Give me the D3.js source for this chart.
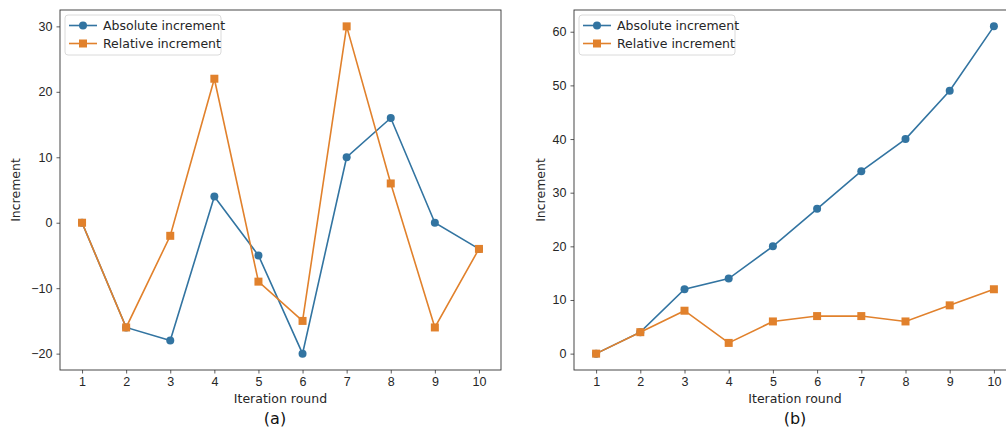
<!DOCTYPE html>
<html lang="en">
<head>
    <meta charset="UTF-8">
    <script src="https://cdnjs.cloudflare.com/ajax/libs/d3/7.8.5/d3.min.js"></script>
    <style>
        body { margin: 0; background: #fff; }
        svg { font-family: "DejaVu Sans", sans-serif; }
        .tick text { font-size: 12.5px; fill: #262626; }
    </style>
</head>
<body>
    <svg width="1006" height="428"></svg>
    <script>
        const rounds = [1, 2, 3, 4, 5, 6, 7, 8, 9, 10];
        const absA = [0, -16, -18, 4, -5, -20, 10, 16, 0, -4];
        const relA = [0, -16, -2, 22, -9, -15, 30, 6, -16, -4];
        const absB = [0, 4, 12, 14, 20, 27, 34, 40, 49, 61];
        const relB = [0, 4, 8, 2, 6, 7, 7, 6, 9, 12];
        const ticksA = [-20, -10, 0, 10, 20, 30];
        const ticksB = [0, 10, 20, 30, 40, 50, 60];
        const seriesNames = ['Absolute increment', 'Relative increment'];
        const colors = ['#3274a1', '#e1812c'];

        const svg = d3.select('svg');

        function panel(opt) {
            const { left, right, top, bottom } = opt;
            const g = svg.append('g');
            const x = d3.scaleLinear().domain([0.5, 10.5]).range([left, right]);
            const all = opt.series.flat();
            const lo = d3.min(all), hi = d3.max(all), pad = (hi - lo) * 0.05;
            const y = d3.scaleLinear().domain([lo - pad, hi + pad]).range([bottom, top]);

            const xAxis = g.append('g')
                .attr('transform', `translate(0,${bottom})`)
                .call(d3.axisBottom(x).tickValues(rounds).tickSize(3.5).tickPadding(4));
            const yAxis = g.append('g')
                .attr('transform', `translate(${left},0)`)
                .call(d3.axisLeft(y).tickValues(opt.yticks).tickSize(3.5).tickPadding(4)
                    .tickFormat(d => d < 0 ? '\u2212' + Math.abs(d) : d));
            [xAxis, yAxis].forEach(a => {
                a.select('.domain').remove();
                a.selectAll('.tick line').attr('stroke', '#333').attr('stroke-width', 0.8);
            });

            g.append('rect')
                .attr('x', left).attr('y', top)
                .attr('width', right - left).attr('height', bottom - top)
                .attr('fill', 'none').attr('stroke', '#333').attr('stroke-width', 0.9);

            const line = d3.line().x((d, i) => x(rounds[i])).y(d => y(d));
            opt.series.forEach((s, k) => {
                g.append('path').datum(s)
                    .attr('d', line).attr('fill', 'none')
                    .attr('stroke', colors[k]).attr('stroke-width', 1.6);
                if (k === 0) {
                    g.selectAll(null).data(s).enter().append('circle')
                        .attr('cx', (d, i) => x(rounds[i])).attr('cy', d => y(d))
                        .attr('r', 4).attr('fill', colors[k]);
                } else {
                    g.selectAll(null).data(s).enter().append('rect')
                        .attr('x', (d, i) => x(rounds[i]) - 4).attr('y', d => y(d) - 4)
                        .attr('width', 8).attr('height', 8).attr('fill', colors[k]);
                }
            });

            g.append('text')
                .attr('x', (left + right) / 2).attr('y', 403)
                .attr('text-anchor', 'middle').attr('font-size', 12.5).attr('fill', '#262626')
                .text('Iteration round');
            g.append('text')
                .attr('transform', `translate(${opt.ylabX},${(top + bottom) / 2}) rotate(-90)`)
                .attr('text-anchor', 'middle').attr('font-size', 12.5).attr('fill', '#262626')
                .text('Increment');
            g.append('text')
                .attr('x', opt.capX).attr('y', 424)
                .attr('text-anchor', 'middle').attr('font-size', 16).attr('fill', '#111')
                .text(opt.caption);

            // legend
            const lg = g.append('g').attr('transform', `translate(${left + 5},${top + 5})`);
            lg.append('rect').attr('width', 156).attr('height', 40).attr('rx', 3)
                .attr('fill', 'white').attr('fill-opacity', 0.85)
                .attr('stroke', '#d6d6d6').attr('stroke-width', 0.9);
            seriesNames.forEach((name, k) => {
                const yy = 10.5 + k * 18;
                lg.append('line').attr('x1', 4).attr('x2', 32).attr('y1', yy).attr('y2', yy)
                    .attr('stroke', colors[k]).attr('stroke-width', 1.6);
                if (k === 0) lg.append('circle').attr('cx', 18).attr('cy', yy).attr('r', 4).attr('fill', colors[k]);
                else lg.append('rect').attr('x', 14).attr('y', yy - 4).attr('width', 8).attr('height', 8).attr('fill', colors[k]);
                lg.append('text').attr('x', 38).attr('y', yy + 4.5)
                    .attr('font-size', 12.5).attr('fill', '#262626').text(name);
            });
        }

        panel({ left: 60, right: 501, top: 10, bottom: 370, series: [absA, relA],
            yticks: ticksA, ylabX: 20, capX: 275, caption: '(a)' });
        panel({ left: 574, right: 1016, top: 10, bottom: 370, series: [absB, relB],
            yticks: ticksB, ylabX: 545, capX: 795, caption: '(b)' });
    </script>
</body>
</html>
